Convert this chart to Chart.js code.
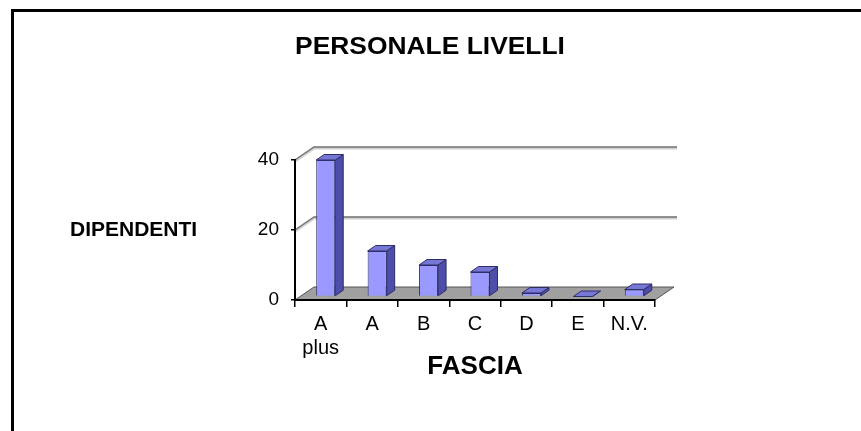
<!DOCTYPE html>
<html>
<head>
<meta charset="utf-8">
<script src="https://cdn.jsdelivr.net/npm/chart.js@4/dist/chart.umd.min.js"></script>
<style>
  html, body { margin: 0; padding: 0; background: #fff; }
  #wrap { width: 861px; height: 431px; }
</style>
</head>
<body>
<div id="wrap"><canvas id="chart" width="861" height="431"></canvas></div>
<script>
// data
const categories = [['A', 'plus'], 'A', 'B', 'C', 'D', 'E', 'N.V.'];
const dipendenti = [39, 13, 9, 7, 1, 0, 2];
const yTicks = [0, 20, 40];

const FONT = "'Liberation Sans', Arial, sans-serif";
// depth of the 3D box and of each bar
const DEPTH = { dx: 19, dy: -13 };
const BAR_DEPTH = { dx: 8, dy: -5.5 };

// draws the frame, the titles, the fake 3D floor, walls and bar faces
const fake3d = {
    id: 'fake3d',
    beforeDraw(chart) {
        const { ctx, chartArea: a, scales } = chart;
        ctx.save();
        ctx.fillStyle = '#fff';
        ctx.fillRect(0, 0, chart.width, chart.height);

        // outer frame (only top and left are inside the picture)
        ctx.strokeStyle = '#000';
        ctx.lineWidth = 3;
        ctx.beginPath();
        ctx.moveTo(12.5, chart.height + 2);
        ctx.lineTo(12.5, 10.5);
        ctx.lineTo(chart.width + 2, 10.5);
        ctx.stroke();

        // floor
        const y0 = scales.y.getPixelForValue(0);
        ctx.fillStyle = '#a0a0a0';
        ctx.strokeStyle = '#555';
        ctx.lineWidth = 1;
        ctx.beginPath();
        ctx.moveTo(a.left, y0);
        ctx.lineTo(a.right, y0);
        ctx.lineTo(a.right + DEPTH.dx, y0 + DEPTH.dy);
        ctx.lineTo(a.left + DEPTH.dx, y0 + DEPTH.dy);
        ctx.closePath();
        ctx.fill();
        ctx.stroke();

        // gridlines on side and back wall
        yTicks.filter(v => v > 0).forEach(v => {
            const y = scales.y.getPixelForValue(v);
            ctx.strokeStyle = '#d0d0d0';
            ctx.lineWidth = 3;
            ctx.beginPath();
            ctx.moveTo(a.left, y + 1);
            ctx.lineTo(a.left + DEPTH.dx, y + DEPTH.dy + 1);
            ctx.lineTo(a.right + DEPTH.dx + 3, y + DEPTH.dy + 1);
            ctx.stroke();
            ctx.strokeStyle = '#777';
            ctx.lineWidth = 1.5;
            ctx.beginPath();
            ctx.moveTo(a.left, y);
            ctx.lineTo(a.left + DEPTH.dx, y + DEPTH.dy);
            ctx.lineTo(a.right + DEPTH.dx + 3, y + DEPTH.dy);
            ctx.stroke();
        });

        ctx.fillStyle = '#000';
        ctx.textBaseline = 'middle';

        // chart title, slightly stretched like the original
        ctx.save();
        ctx.font = 'bold 24px ' + FONT;
        ctx.textAlign = 'center';
        ctx.translate(430, 47);
        ctx.scale(1.1, 1);
        ctx.fillText('PERSONALE LIVELLI', 0, 0);
        ctx.restore();

        // horizontal y axis title
        ctx.font = 'bold 21px ' + FONT;
        ctx.textAlign = 'left';
        ctx.fillText('DIPENDENTI', 70, 230);
        ctx.restore();
    },
    beforeDatasetsDraw(chart) {
        // bars sit in the middle of the depth
        chart.ctx.save();
        chart.ctx.translate(5, -3.5);
    },
    afterDatasetsDraw(chart) {
        const ctx = chart.ctx;
        const meta = chart.getDatasetMeta(0);
        meta.data.forEach(bar => {
            const { x, y, base, width } = bar.getProps(['x', 'y', 'base', 'width'], true);
            const l = x - width / 2, r = x + width / 2;
            ctx.strokeStyle = '#2e2e66';
            ctx.lineWidth = 1;
            // side face
            ctx.fillStyle = '#4d4daa';
            ctx.beginPath();
            ctx.moveTo(r, y);
            ctx.lineTo(r + BAR_DEPTH.dx, y + BAR_DEPTH.dy);
            ctx.lineTo(r + BAR_DEPTH.dx, base + BAR_DEPTH.dy);
            ctx.lineTo(r, base);
            ctx.closePath();
            ctx.fill();
            ctx.stroke();
            // top face
            ctx.fillStyle = '#7777d6';
            ctx.beginPath();
            ctx.moveTo(l, y);
            ctx.lineTo(r, y);
            ctx.lineTo(r + BAR_DEPTH.dx, y + BAR_DEPTH.dy);
            ctx.lineTo(l + BAR_DEPTH.dx, y + BAR_DEPTH.dy);
            ctx.closePath();
            ctx.fill();
            ctx.stroke();
        });
        ctx.restore();
    }
};

new Chart(document.getElementById('chart'), {
    type: 'bar',
    data: {
        labels: categories,
        datasets: [{
            label: 'DIPENDENTI',
            data: dipendenti,
            backgroundColor: '#9999ff',
            borderColor: '#2e2e66',
            borderWidth: 1,
            categoryPercentage: 1,
            barPercentage: 0.37,
            clip: false
        }]
    },
    options: {
        responsive: false,
        animation: false,
        events: [],
        layout: { padding: { left: 0, right: 206, top: 160, bottom: 0 } },
        plugins: {
            legend: { display: false },
            tooltip: { enabled: false },
            title: { display: false }
        },
        scales: {
            x: {
                grid: { display: true, drawOnChartArea: false, drawTicks: true, tickLength: 7, color: '#000', lineWidth: 1.5, offset: true },
                border: { display: true, color: '#000', width: 2 },
                ticks: { color: '#000', font: { family: FONT, size: 20 }, padding: 5, maxRotation: 0, autoSkip: false },
                title: {
                    display: true,
                    text: 'FASCIA',
                    color: '#000',
                    font: { family: FONT, size: 26, weight: 'bold' },
                    padding: { top: 0, bottom: 49 }
                },
                afterFit(s) { s.height = 131; }
            },
            y: {
                min: 0,
                max: 40,
                afterBuildTicks(s) { s.ticks = yTicks.map(v => ({ value: v })); },
                grid: { display: true, drawOnChartArea: false, drawTicks: true, tickLength: 4, color: '#000', lineWidth: 1.5 },
                border: { display: true, color: '#000', width: 2 },
                ticks: { color: '#000', font: { family: FONT, size: 19 }, padding: 12 },
                afterFit(s) { s.width = 295; }
            }
        }
    },
    plugins: [fake3d]
});
</script>
</body>
</html>
